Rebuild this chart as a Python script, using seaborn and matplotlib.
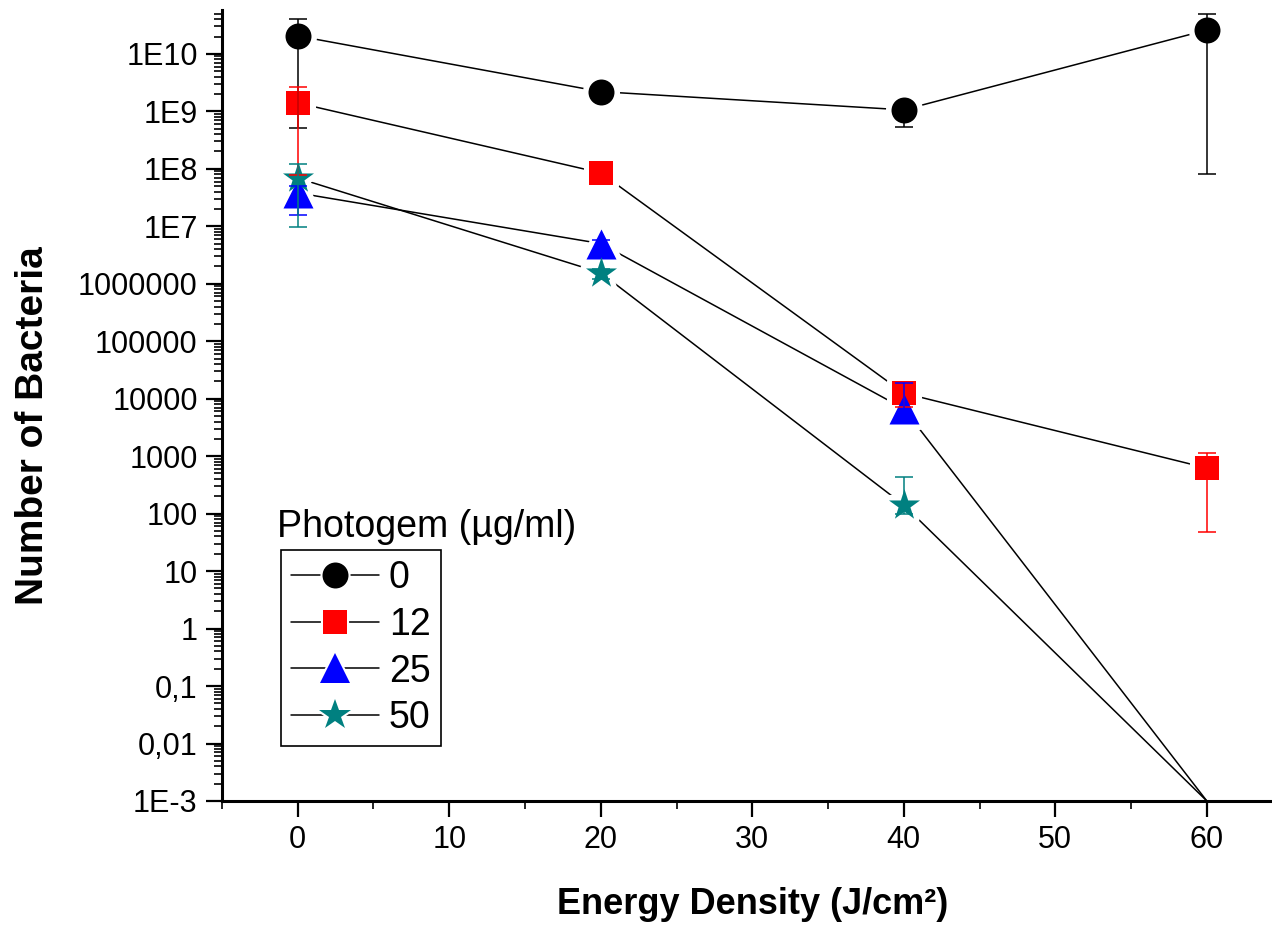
import numpy as np
import pandas as pd
import matplotlib
matplotlib.use("Agg")
import matplotlib.pyplot as plt
import seaborn as sns
from matplotlib.lines import Line2D
from matplotlib.ticker import FixedLocator, FixedFormatter, LogLocator, MultipleLocator, NullFormatter

# ==========================================
# 1. DADOS
# ==========================================
energy = [0, 20, 40, 60]
doses = ["0", "12", "25", "50"]

bact_0 = [2.05e10, 2.2e9, 1.06e9, 2.6e10]
bact_12 = [1.4e9, 8.5e7, 1.25e4, 620]
bact_25 = [3.8e7, 5.0e6, 6.7e3, 1e-3]
bact_50 = [6.9e7, 1.55e6, 141, 1e-3]

# limites superior / inferior das barras de erro
hi_0 = [4.1e10, 2.5e9, 1.2e9, 5.0e10]
lo_0 = [5.2e8, 1.9e9, 5.4e8, 8.1e7]
hi_12 = [2.7e9, 1.0e8, 1.9e4, 1150]
lo_12 = [7.8e7, 7.0e7, 7.2e3, 48]
hi_25 = [5.0e7, 5.8e6, 1.9e4, np.nan]
lo_25 = [1.6e7, 3.6e6, 5.0e3, np.nan]
hi_50 = [1.2e8, 1.8e6, 440, np.nan]
lo_50 = [9.8e6, 1.2e6, 100, np.nan]

ytick_vals = [1e-3, 1e-2, 1e-1, 1, 10, 100, 1e3, 1e4, 1e5, 1e6, 1e7, 1e8, 1e9, 1e10]
ytick_labels = ["1E-3", "0,01", "0,1", "1", "10", "100", "1000", "10000",
                "100000", "1000000", "1E7", "1E8", "1E9", "1E10"]
xtick_vals = [0, 10, 20, 30, 40, 50, 60]

series = {"0": (bact_0, lo_0, hi_0), "12": (bact_12, lo_12, hi_12),
          "25": (bact_25, lo_25, hi_25), "50": (bact_50, lo_50, hi_50)}

# estilo de cada série: marcador, cor, tamanho (pt)
estilo = {"0": ("o", "black", 18.7), "12": ("s", "#ff0000", 16.6),
          "25": ("^", "#0000ff", 21.6), "50": ("*", "#008080", 23.5)}

rows = []
for d in doses:
    vals, lo, hi = series[d]
    for e, v, l, h in zip(energy, vals, lo, hi):
        rows.append({"energy": e, "bacteria": v, "lo": l, "hi": h, "dose": d})
df = pd.DataFrame(rows)

# ==========================================
# 2. GRÁFICO
# ==========================================
sns.set_theme(style="white")
plt.rcParams['font.family'] = ['Liberation Sans', 'DejaVu Sans']
plt.rcParams['text.color'] = 'black'
plt.rcParams['axes.labelcolor'] = 'black'

fig = plt.figure(figsize=(12.72, 9.33), dpi=100)
ax = fig.add_axes([0.1745, 0.1415, 0.8255, 0.8478])

# linhas de ligação (todas pretas)
sns.lineplot(data=df, x="energy", y="bacteria", hue="dose", palette=["black"] * 4,
             estimator=None, sort=False, legend=False, lw=1.1, ax=ax, zorder=2)

pontos = df[df["bacteria"] > 1e-3]
# "gap" estilo Origin: halo branco em volta dos marcadores
for d in doses:
    m, c, ms = estilo[d]
    sub = pontos[pontos["dose"] == d]
    sns.scatterplot(data=sub, x="energy", y="bacteria", marker=m, s=ms ** 2,
                    color="white", edgecolor="white", linewidth=8, legend=False,
                    ax=ax, zorder=3)
for d in doses:
    m, c, ms = estilo[d]
    sub = pontos[pontos["dose"] == d]
    sns.scatterplot(data=sub, x="energy", y="bacteria", marker=m, s=ms ** 2,
                    color=c, edgecolor=c, linewidth=0, legend=False, ax=ax, zorder=4)

# barras de erro
for d in doses:
    m, c, ms = estilo[d]
    sub = df[(df["dose"] == d) & df["hi"].notna()]
    yerr = [sub["bacteria"] - sub["lo"], sub["hi"] - sub["bacteria"]]
    ax.errorbar(sub["energy"], sub["bacteria"], yerr=yerr, fmt="none", ecolor=c,
                elinewidth=1.1, capsize=6.8, capthick=1.1, zorder=5)

ax.set_yscale("log")
ax.set_xlim(-5, 64.3)
ax.set_ylim(1e-3, 5.8e10)

ax.yaxis.set_major_locator(FixedLocator(ytick_vals))
ax.yaxis.set_major_formatter(FixedFormatter(ytick_labels))
ax.yaxis.set_minor_locator(LogLocator(base=10, subs=np.arange(2, 10), numticks=100))
ax.yaxis.set_minor_formatter(NullFormatter())
ax.xaxis.set_major_locator(FixedLocator(xtick_vals))
ax.xaxis.set_minor_locator(MultipleLocator(5))

for lado in ["top", "right"]:
    ax.spines[lado].set_visible(False)
for lado in ["left", "bottom"]:
    ax.spines[lado].set_linewidth(2.2)
    ax.spines[lado].set_color("black")

ax.tick_params(which="major", direction="out", length=11.5, width=1.6, color="black",
               labelsize=22, pad=6, left=True, bottom=True, labelcolor="black")
ax.tick_params(which="minor", direction="out", length=5.5, width=1.2, color="black",
               left=True, bottom=True)

ax.set_xlabel("Energy Density (J/cm²)", fontsize=26, fontweight="bold", va="center")
ax.xaxis.set_label_coords(0.5057, -0.1315)
ax.set_ylabel("Number of Bacteria", fontsize=28, fontweight="bold", va="center")
ax.yaxis.set_label_coords(-0.18, 0.474)

# legenda com título fora da caixa
handles = []
for d in doses:
    m, c, ms = estilo[d]
    linha = Line2D([], [], color="black", lw=1.1)
    halo = Line2D([], [], marker=m, ls="none", ms=ms, mfc="white", mec="white", mew=3)
    marc = Line2D([], [], marker=m, ls="none", ms=ms, mfc=c, mec=c, mew=0)
    handles.append((linha, halo, marc))

leg = ax.legend(handles, doses, loc="upper left",
                bbox_to_anchor=(281 / 1272, (933 - 550) / 933), bbox_transform=fig.transFigure,
                frameon=True, fancybox=False, edgecolor="black", framealpha=1,
                fontsize=27, handlelength=2.35, handletextpad=0.27, borderpad=0.26,
                labelspacing=0.29, borderaxespad=0)
leg.get_frame().set_linewidth(1.2)
fig.text(277 / 1272, (933 - 537) / 933, "Photogem (µg/ml)", fontsize=27,
         ha="left", va="baseline", color="black")

fig.savefig("out.png", dpi=100)
plt.close(fig)
